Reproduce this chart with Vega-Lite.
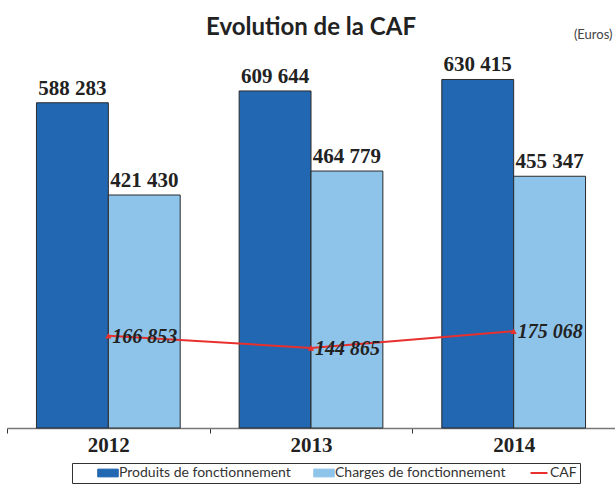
{
  "$schema": "https://vega.github.io/schema/vega-lite/v6.json",
  "width": 608,
  "height": 387,
  "autosize": {"type": "none"},
  "padding": {"left": 7, "top": 41, "right": 0, "bottom": 58},
  "background": "white",
  "title": {"text": "Evolution de la CAF", "font": "Lato", "fontSize": 24, "fontWeight": "bold", "color": "#222222", "anchor": "middle", "frame": "group", "offset": 9, "dy": 21},
  "config": {
    "locale": {"number": {"decimal": ",", "thousands": " ", "grouping": [3], "currency": ["", ""]}},
    "view": {"stroke": null}
  },
  "datasets": {
    "bars": [
      {"annee": "2012", "serie": "Produits de fonctionnement", "valeur": 588283},
      {"annee": "2012", "serie": "Charges de fonctionnement", "valeur": 421430},
      {"annee": "2013", "serie": "Produits de fonctionnement", "valeur": 609644},
      {"annee": "2013", "serie": "Charges de fonctionnement", "valeur": 464779},
      {"annee": "2014", "serie": "Produits de fonctionnement", "valeur": 630415},
      {"annee": "2014", "serie": "Charges de fonctionnement", "valeur": 455347}
    ],
    "caf": [
      {"annee": "2012", "valeur": 166853},
      {"annee": "2013", "valeur": 144865},
      {"annee": "2014", "valeur": 175068}
    ]
  },
  "layer": [
    {
      "data": {"name": "bars"},
      "mark": {"type": "bar", "stroke": "#2b2b2b", "strokeWidth": 1},
      "encoding": {
        "x": {
          "field": "annee", "type": "nominal",
          "scale": {"paddingInner": 0, "paddingOuter": 0},
          "axis": {"title": null, "labelAngle": 0, "labelFont": "Liberation Serif", "labelFontWeight": "bold", "labelFontSize": 21, "labelColor": "#222222", "labelPadding": 1, "tickBand": "extent", "tickSize": 5, "tickColor": "#333333", "domainColor": "#777777", "domainWidth": 1.5}
        },
        "xOffset": {"field": "serie", "type": "nominal", "scale": {"domain": ["Produits de fonctionnement", "Charges de fonctionnement"], "paddingInner": 0, "paddingOuter": 0.41}},
        "y": {
          "field": "valeur", "type": "quantitative",
          "scale": {"domain": [0, 700000]},
          "axis": {"orient": "right", "domain": false, "ticks": false, "labels": false, "grid": false, "title": "(Euros)", "titleAngle": 0, "titleAlign": "right", "titleBaseline": "alphabetic", "titleX": -3, "titleY": -3, "titleFont": "Lato", "titleFontSize": 13, "titleFontWeight": "normal", "titleColor": "#444444"}
        },
        "color": {
          "field": "serie", "type": "nominal",
          "scale": {"domain": ["Produits de fonctionnement", "Charges de fonctionnement", "CAF"], "range": ["#2267b1", "#8ec4ea", "#e8302e"]},
          "legend": {
            "title": "__", "titleOrient": "left", "titleFont": "Lato", "titleFontSize": 14, "titlePadding": 12, "titleOpacity": 0,
            "orient": "none", "legendX": 65, "legendY": 422, "direction": "horizontal",
            "strokeColor": "#333333", "padding": 3, "columnPadding": 20, "labelFont": "Lato", "labelFontSize": 14, "labelColor": "#333333", "labelLimit": 300, "labelOffset": 4,
            "symbolSize": 200, "symbolType": "M-1.45,-0.55H1.45V0.55H-1.45Z", "symbolStrokeColor": "#333333", "symbolStrokeWidth": 1,
            "encode": {
              "symbols": {
                "update": {
                  "shape": {"signal": "datum.value === 'CAF' ? 'M-1.2,0H1.2' : 'M-1.45,-0.55H1.45V0.55H-1.45Z'"},
                  "fill": {"signal": "datum.value === 'CAF' ? 'transparent' : (datum.value === 'Produits de fonctionnement' ? '#2267b1' : '#8ec4ea')"},
                  "stroke": {"signal": "datum.value === 'CAF' ? '#e8302e' : '#333333'"},
                  "strokeWidth": {"signal": "datum.value === 'CAF' ? 2 : 1"}
                }
              }
            }
          }
        }
      }
    },
    {
      "data": {"name": "bars"},
      "mark": {"type": "text", "baseline": "bottom", "dy": -4, "font": "Liberation Serif", "fontWeight": "bold", "fontSize": 21, "color": "#222222"},
      "encoding": {
        "x": {"field": "annee", "type": "nominal"},
        "xOffset": {"field": "serie", "type": "nominal"},
        "y": {"field": "valeur", "type": "quantitative"},
        "text": {"field": "valeur", "type": "quantitative", "format": ",d"}
      }
    },
    {
      "data": {"name": "caf"},
      "mark": {"type": "line", "strokeWidth": 2, "point": {"filled": true, "shape": "triangle-up", "size": 40}},
      "encoding": {
        "x": {"field": "annee", "type": "nominal"},
        "y": {"field": "valeur", "type": "quantitative"},
        "color": {"datum": "CAF"}
      }
    },
    {
      "data": {"name": "caf"},
      "mark": {"type": "text", "align": "left", "baseline": "middle", "dx": 4, "dy": 1, "font": "Liberation Serif", "fontWeight": "bold", "fontStyle": "italic", "fontSize": 20, "color": "#222222"},
      "encoding": {
        "x": {"field": "annee", "type": "nominal"},
        "y": {"field": "valeur", "type": "quantitative"},
        "text": {"field": "valeur", "type": "quantitative", "format": ",d"}
      }
    }
  ]
}
